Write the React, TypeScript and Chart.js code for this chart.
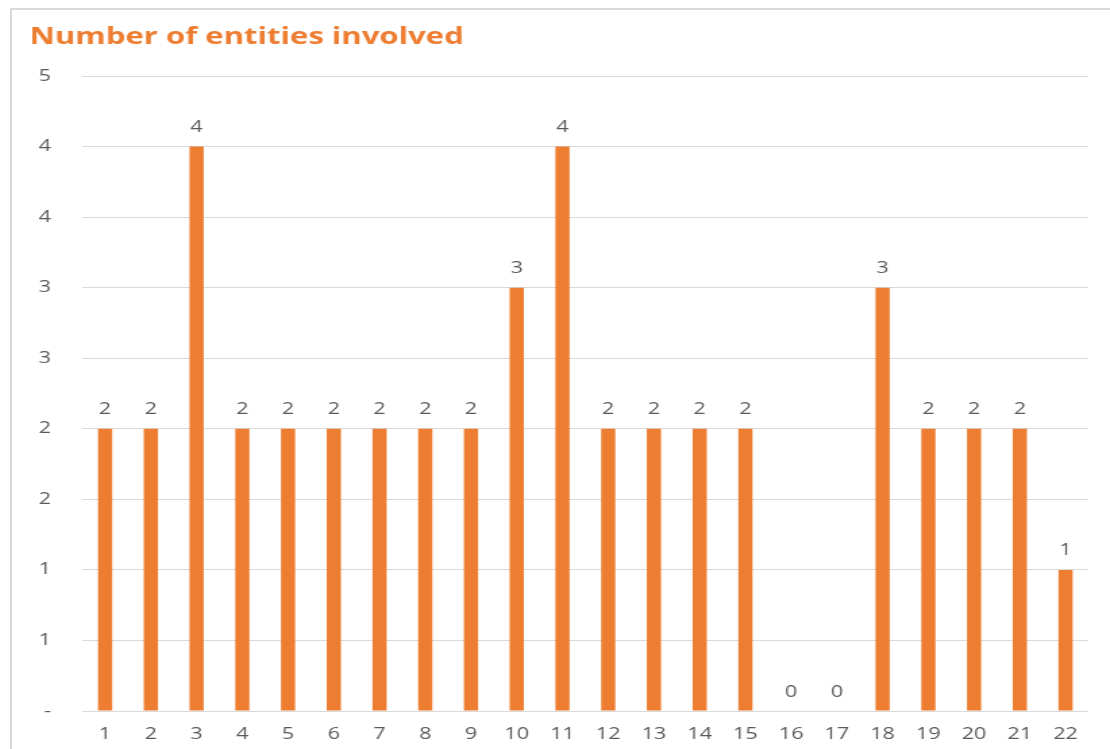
import React, { useEffect, useRef } from "react";
import { Chart, registerables } from "chart.js";

Chart.register(...registerables);

const categories = ["1","2","3","4","5","6","7","8","9","10","11","12","13","14","15","16","17","18","19","20","21","22"];
const entities = [2,2,4,2,2,2,2,2,2,3,4,2,2,2,2,0,0,3,2,2,2,1];
const yTickLabels = ["-","1","1","2","2","3","3","4","4","5"];
const chartTitle = "Number of entities involved";

const ORANGE = "#ED7D31";
const GRAY = "#595959";
const GRID = "#d9d9d9";
const FONT = "'Open Sans', 'DejaVu Sans', sans-serif";

// the reference is horizontally stretched; render narrower and stretch via CSS
const STRETCH = 1.35;
const CSS_W = 1098;
const CSS_H = 739;
const INT_W = Math.round(CSS_W / STRETCH);

const dataLabels = {
  id: "dataLabels",
  afterDatasetsDraw(chart: any) {
    const ctx = chart.ctx;
    const meta = chart.getDatasetMeta(0);
    const ds = chart.data.datasets[0];
    ctx.save();
    ctx.fillStyle = GRAY;
    ctx.font = `16px ${FONT}`;
    ctx.textAlign = "center";
    ctx.textBaseline = "middle";
    meta.data.forEach((bar: any, i: number) => {
      ctx.fillText(String(ds.data[i]), bar.x, bar.y - 19);
    });
    ctx.restore();
  },
};

export default function App() {
  const ref = useRef<HTMLCanvasElement | null>(null);
  useEffect(() => {
    if (!ref.current) return;
    const chart = new Chart(ref.current, {
      type: "bar",
      data: {
        labels: categories,
        datasets: [
          {
            data: entities,
            backgroundColor: ORANGE,
            borderWidth: 0,
            categoryPercentage: 1,
            barPercentage: 0.31,
          },
        ],
      },
      options: {
        responsive: false,
        animation: false,
        devicePixelRatio: 1,
        layout: { padding: { left: 13, right: 16, top: 0, bottom: 0 } },
        plugins: {
          legend: { display: false },
          tooltip: { enabled: false },
          title: {
            display: true,
            text: chartTitle,
            align: "start",
            color: ORANGE,
            font: { family: FONT, size: 23, weight: "bold", lineHeight: 1.2 },
            padding: { top: 14, bottom: 24.4 },
          },
        },
        scales: {
          x: {
            grid: { display: false },
            border: { display: false },
            ticks: { color: GRAY, font: { family: FONT, size: 16 }, padding: 6, maxRotation: 0, autoSkip: false },
            afterFit: (s: any) => { s.height = 38; },
          },
          y: {
            min: 0,
            max: 4.5,
            grid: { color: GRID, lineWidth: 1, drawTicks: false },
            border: { display: false },
            ticks: {
              stepSize: 0.5,
              color: GRAY,
              font: { family: FONT, size: 16 },
              padding: 23,
              callback: (_v: any, i: number) => yTickLabels[i],
            },
            afterFit: (s: any) => { s.width = 39; },
          },
        },
      },
      plugins: [dataLabels],
    });
    return () => chart.destroy();
  }, []);

  return (
    <div
      style={{
        position: "fixed",
        left: 10,
        top: 8,
        width: 1100,
        height: 741,
        borderTop: `2px solid ${GRID}`,
        borderLeft: `2px solid ${GRID}`,
        background: "#fff",
        overflow: "hidden",
        boxSizing: "border-box",
      }}
    >
      <canvas
        ref={ref}
        width={INT_W}
        height={CSS_H}
        style={{ position: "absolute", left: 0, top: 0, width: CSS_W, height: CSS_H, display: "block" }}
      />
    </div>
  );
}
